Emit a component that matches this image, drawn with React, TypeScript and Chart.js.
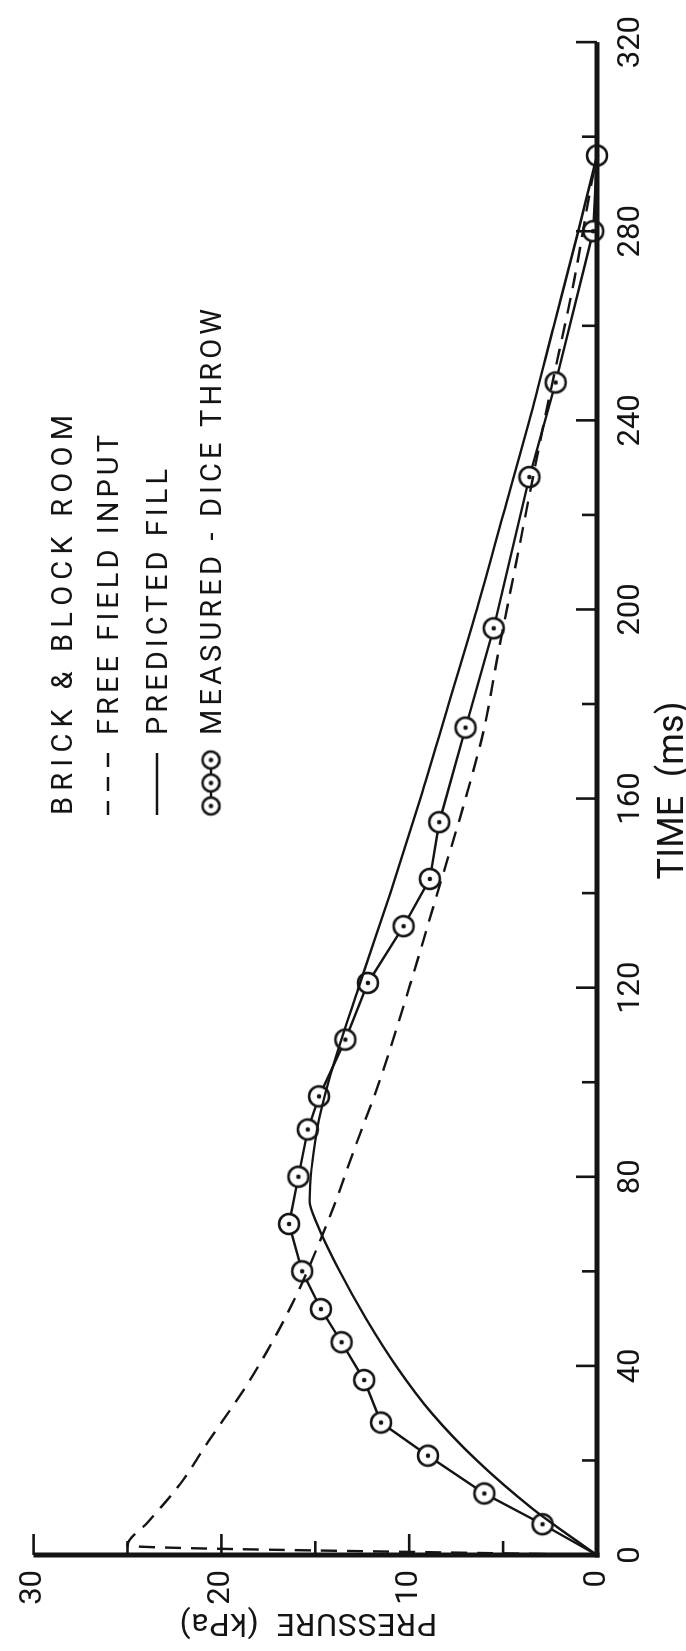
import { useEffect, useRef } from "react";
import { Chart, registerables } from "chart.js";

Chart.register(...registerables);

// ---------------- data ----------------
const timeTicks = [0, 40, 80, 120, 160, 200, 240, 280, 320];
const timeMinorTicks = [20, 60, 100, 140, 180, 220, 260, 300];
const pressureTicks = [0, 10, 20, 30];
const pressureMinorTicks = [5, 15, 25];

const timeFree = [0, 2, 7, 15, 24, 35, 45, 55, 65, 75, 85, 100, 120, 140, 160, 175, 190, 210, 240, 270, 290, 296];
const pressureFree = [0, 25, 23.9, 22.2, 20.7, 18.8, 17.3, 16.0, 14.9, 13.9, 13.0, 11.6, 10.0, 8.5, 7.0, 6.0, 5.3, 4.3, 2.8, 1.2, 0.3, 0];

const timePredicted = [0, 5, 10, 20, 30, 40, 50, 60, 70, 75, 90, 100, 120, 140, 160, 180, 200, 220, 240, 260, 280, 296];
const pressurePredicted = [0, 1.8, 3.5, 6.4, 8.8, 10.7, 12.3, 13.7, 14.9, 15.3, 14.9, 14.3, 12.7, 11.0, 9.4, 7.9, 6.4, 5.0, 3.6, 2.3, 1.0, 0];

const timeMeasured = [0, 6.5, 13, 21, 28, 37, 45, 52, 60, 70, 80, 90, 97, 109, 121, 133, 143, 155, 175, 196, 228, 248, 280, 296];
const pressureMeasured = [0, 2.9, 6.0, 9.0, 11.5, 12.4, 13.6, 14.7, 15.7, 16.4, 15.9, 15.4, 14.8, 13.4, 12.2, 10.3, 8.9, 8.4, 7.0, 5.5, 3.6, 2.2, 0.2, 0];

const legendTitle = "BRICK & BLOCK ROOM";
const seriesNames = ["FREE FIELD INPUT", "PREDICTED FILL", "MEASURED - DICE THROW"];
const xTitle = "TIME  (ms)";
const yTitle = "PRESSURE  (kPa)";

// ---------------- styling ----------------
const W = 1651;
const H = 686;
const INK = "#141414";
const FONT = "Roboto";

function pts(xs: number[], ys: number[]) {
  return xs.map((x, i) => ({ x, y: ys[i] }));
}

function makeMarker(r: number) {
  const c = document.createElement("canvas");
  const s = Math.ceil(2 * r + 6);
  c.width = s;
  c.height = s;
  const g = c.getContext("2d")!;
  g.beginPath();
  g.arc(s / 2, s / 2, r, 0, Math.PI * 2);
  g.fillStyle = "#fff";
  g.fill();
  g.lineWidth = 2.6;
  g.strokeStyle = INK;
  g.stroke();
  g.beginPath();
  g.arc(s / 2, s / 2, 2.3, 0, Math.PI * 2);
  g.fillStyle = INK;
  g.fill();
  return c;
}

function drawSpaced(ctx: CanvasRenderingContext2D, text: string, x: number, y: number, width: number, align: "left" | "center" = "left") {
  const chars = Array.from(text);
  const ws = chars.map((ch) => ctx.measureText(ch).width);
  const natural = ws.reduce((a, b) => a + b, 0);
  const extra = chars.length > 1 ? (width - natural) / (chars.length - 1) : 0;
  let cx = align === "center" ? x - width / 2 : x;
  ctx.textAlign = "left";
  chars.forEach((ch, i) => {
    ctx.fillText(ch, cx, y);
    cx += ws[i] + extra;
  });
}

export default function App() {
  const ref = useRef<HTMLCanvasElement | null>(null);

  useEffect(() => {
    if (!ref.current) return;
    const marker = makeMarker(10);
    const smallMarker = makeMarker(8.5);

    const decor = {
      id: "decor",
      afterDatasetsDraw(chart: any) {
        const ctx: CanvasRenderingContext2D = chart.ctx;
        const xs = chart.scales.x;
        const ys = chart.scales.y;
        const x0 = xs.getPixelForValue(0);
        const x1 = xs.getPixelForValue(320);
        const y0 = ys.getPixelForValue(0);
        const y1 = ys.getPixelForValue(30);
        ctx.save();
        ctx.strokeStyle = INK;
        ctx.fillStyle = INK;
        ctx.lineCap = "butt";
        // axis lines
        ctx.lineWidth = 5;
        ctx.beginPath();
        ctx.moveTo(x0 - 2.5, y0);
        ctx.lineTo(x1, y0);
        ctx.stroke();
        ctx.beginPath();
        ctx.moveTo(x0, y0 + 2.5);
        ctx.lineTo(x0, y1);
        ctx.stroke();
        // inward ticks
        ctx.lineWidth = 2.6;
        timeTicks.forEach((t) => {
          const px = xs.getPixelForValue(t);
          ctx.beginPath();
          ctx.moveTo(px, y0);
          ctx.lineTo(px, y0 - 21);
          ctx.stroke();
        });
        timeMinorTicks.forEach((t) => {
          const px = xs.getPixelForValue(t);
          ctx.beginPath();
          ctx.moveTo(px, y0);
          ctx.lineTo(px, y0 - 15);
          ctx.stroke();
        });
        pressureTicks.forEach((p) => {
          const py = ys.getPixelForValue(p);
          ctx.beginPath();
          ctx.moveTo(x0, py);
          ctx.lineTo(x0 + 21, py);
          ctx.stroke();
        });
        pressureMinorTicks.forEach((p) => {
          const py = ys.getPixelForValue(p);
          ctx.beginPath();
          ctx.moveTo(x0, py);
          ctx.lineTo(x0 + 14, py);
          ctx.stroke();
        });

        // axis titles
        ctx.textBaseline = "alphabetic";
        ctx.font = `36px ${FONT}`;
        drawSpaced(ctx, xTitle, (x0 + x1) / 2 + 8, 683, 178, "center");
        ctx.save();
        ctx.translate(37, (y0 + y1) / 2 - 7);
        ctx.rotate(-Math.PI / 2);
        ctx.font = `32px ${FONT}`;
        drawSpaced(ctx, yTitle, 0, 0, 258, "center");
        ctx.restore();

        // legend
        const lx = 836;
        const tx = 916;
        const rows = [62, 108, 157, 211];
        ctx.font = `29px ${FONT}`;
        drawSpaced(ctx, legendTitle, lx, rows[0] + 10, 400);
        // free field sample
        ctx.lineWidth = 2.4;
        ctx.setLineDash([14, 10]);
        ctx.beginPath();
        ctx.moveTo(lx, rows[1]);
        ctx.lineTo(lx + 62, rows[1]);
        ctx.stroke();
        ctx.setLineDash([]);
        drawSpaced(ctx, seriesNames[0], tx, rows[1] + 10, 300);
        // predicted sample
        ctx.beginPath();
        ctx.moveTo(lx, rows[2]);
        ctx.lineTo(lx + 62, rows[2]);
        ctx.stroke();
        drawSpaced(ctx, seriesNames[1], tx, rows[2] + 10, 266);
        // measured sample
        ctx.beginPath();
        ctx.moveTo(lx + 9, rows[3]);
        ctx.lineTo(lx + 55, rows[3]);
        ctx.stroke();
        [lx + 9, lx + 32, lx + 55].forEach((cx) => {
          ctx.drawImage(smallMarker, cx - smallMarker.width / 2, rows[3] - smallMarker.height / 2);
        });
        drawSpaced(ctx, seriesNames[2], tx, rows[3] + 10, 426);
        ctx.restore();
      },
    };

    const tickFont = { family: FONT, size: 31 };

    const chart = new Chart(ref.current, {
      type: "scatter",
      data: {
        datasets: [
          {
            label: seriesNames[0],
            data: pts(timeFree, pressureFree),
            showLine: true,
            borderColor: INK,
            borderWidth: 2.4,
            borderDash: [16, 10],
            pointRadius: 0,
            cubicInterpolationMode: "monotone",
            clip: false,
          },
          {
            label: seriesNames[1],
            data: pts(timePredicted, pressurePredicted),
            showLine: true,
            borderColor: INK,
            borderWidth: 2.4,
            pointRadius: 0,
            cubicInterpolationMode: "monotone",
            clip: false,
          },
          {
            label: seriesNames[2],
            data: pts(timeMeasured, pressureMeasured),
            showLine: true,
            borderColor: INK,
            borderWidth: 2.4,
            tension: 0,
            pointStyle: marker as any,
            pointRadius: (c: any) => (c.dataIndex === 0 ? 0 : 10),
            clip: false,
          },
        ],
      },
      options: {
        animation: false,
        responsive: false,
        devicePixelRatio: 1,
        layout: { padding: { left: 0, right: 27, top: 24, bottom: 0 } },
        plugins: { legend: { display: false }, tooltip: { enabled: false } },
        scales: {
          x: {
            type: "linear",
            min: 0,
            max: 320,
            afterBuildTicks: (s: any) => {
              s.ticks = timeTicks.map((v) => ({ value: v }));
            },
            afterFit: (s: any) => {
              s.height = 89;
            },
            grid: { display: false, drawTicks: false },
            border: { display: false },
            ticks: { font: tickFont, color: INK, padding: 16, autoSkip: false, maxRotation: 0 },
          },
          y: {
            type: "linear",
            min: 0,
            max: 30,
            afterBuildTicks: (s: any) => {
              s.ticks = pressureTicks.map((v) => ({ value: v }));
            },
            afterFit: (s: any) => {
              s.width = 96;
            },
            grid: { display: false, drawTicks: false },
            border: { display: false },
            ticks: { font: tickFont, color: INK, padding: 15 },
          },
        },
      },
      plugins: [decor],
    } as any);

    return () => chart.destroy();
  }, []);

  return (
    <div style={{ position: "fixed", left: 0, top: 0, width: 686, height: 1651, overflow: "hidden", background: "#fff" }}>
      <div
        style={{
          position: "absolute",
          left: 0,
          top: 0,
          width: W,
          height: H,
          transformOrigin: "0 0",
          transform: `translate(0px, ${W}px) rotate(-90deg)`,
        }}
      >
        <canvas ref={ref} width={W} height={H} style={{ display: "block", width: W, height: H }} />
      </div>
    </div>
  );
}
